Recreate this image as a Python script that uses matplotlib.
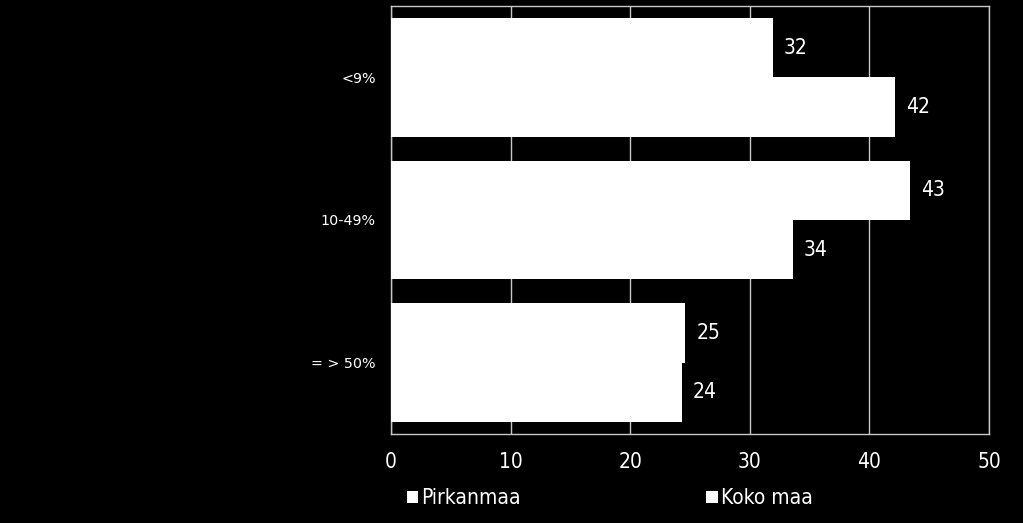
import matplotlib
matplotlib.use("Agg")
import matplotlib.pyplot as plt
import numpy as np

# Data
categories = ["<9%", "10-49%", "= > 50%"]
pirkanmaa = [31.9, 43.4, 24.6]
koko_maa = [42.1, 33.6, 24.3]
series_names = ["Pirkanmaa", "Koko maa"]
x_ticks = [0, 10, 20, 30, 40, 50]

num_font = {"family": "DejaVu Sans", "stretch": "condensed"}

fig = plt.figure(figsize=(10.23, 5.23), dpi=100, facecolor="black")
ax = fig.add_axes([0.3822, 0.1702, 0.9668 - 0.3822, 0.9885 - 0.1702])
ax.set_facecolor("black")

y = np.arange(len(categories))
h = 0.415
b1 = ax.barh(y - h / 2, pirkanmaa, height=h, color="white", label=series_names[0], zorder=3)
b2 = ax.barh(y + h / 2, koko_maa, height=h, color="white", label=series_names[1], zorder=3)

for bars, vals in ((b1, pirkanmaa), (b2, koko_maa)):
    for bar, v in zip(bars, vals):
        ax.annotate(f"{v:.0f}", (bar.get_width(), bar.get_y() + bar.get_height() / 2),
                    xytext=(8, 0), textcoords="offset points", ha="left", va="center",
                    color="white", fontsize=15, **num_font)

ax.set_xlim(0, 50)
ax.set_ylim(len(categories) - 0.5, -0.5)
ax.set_xticks(x_ticks)
ax.set_xticklabels([str(t) for t in x_ticks], fontsize=15, color="white", **num_font)
ax.set_yticks(y)
ax.set_yticklabels(categories, fontsize=10.3, color="white")
ax.tick_params(axis="y", length=0, pad=11)
ax.tick_params(axis="x", length=0, pad=13)
ax.grid(axis="x", color="#c8c8c8", linewidth=1, zorder=0)
for s in ax.spines.values():
    s.set_color("#c8c8c8")
    s.set_linewidth(1)

leg = ax.legend(loc="upper left", bbox_to_anchor=(-0.005, -0.083), ncol=2, frameon=False,
                handlelength=0.55, handleheight=0.55, handletextpad=0.15, columnspacing=8.9,
                prop={**num_font, "size": 15})
for t in leg.get_texts():
    t.set_color("white")

fig.savefig("out.png", dpi=100, facecolor="black")
